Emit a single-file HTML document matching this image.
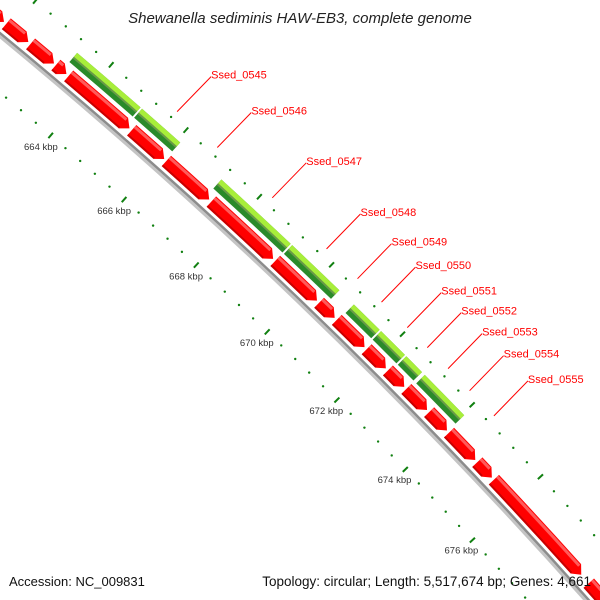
<!DOCTYPE html>
<html><head><meta charset="utf-8"><style>
html,body{margin:0;padding:0;background:#fff;width:600px;height:600px;overflow:hidden}
svg{display:block}
text{font-family:"Liberation Sans",sans-serif}
</style></head><body>
<svg id="map" width="600" height="600" viewBox="0 0 600 600" xmlns="http://www.w3.org/2000/svg">
<rect width="600" height="600" fill="#fff"/>
<g id="backbone"></g>
<g id="ticks"></g>
<g id="red"></g>
<g id="green"></g>
<g id="labels"></g>
<text x="300" y="23" text-anchor="middle" font-size="15" font-style="italic" fill="#222">Shewanella sediminis HAW-EB3, complete genome</text>
<text x="9" y="586" font-size="13" fill="#111">Accession: NC_009831</text>
<text x="591" y="586" text-anchor="end" font-size="13.5" fill="#111">Topology: circular; Length: 5,517,674 bp; Genes: 4,661</text>
</svg>
<script>
// data (kbp)
const redStarts = [655, 661.84, 662.48, 663.15, 663.49, 665.18, 666.12, 667.35, 669.12, 670.35, 670.85, 671.70, 672.31, 672.84, 673.50, 674.08, 674.91, 675.40, 678.25];
const redEnds   = [661.78, 662.42, 663.10, 663.43, 665.12, 666.06, 667.29, 669.06, 670.29, 670.79, 671.64, 672.25, 672.78, 673.44, 674.02, 674.85, 675.34, 678.02, 690];
const greenStarts = [663.32, 665.05, 667.20, 669.15, 670.88, 671.65, 672.37, 672.90];
const greenEnds   = [665.01, 666.08, 669.11, 670.47, 671.61, 672.33, 672.82, 674.04];
const labelNames = ["Ssed_0545","Ssed_0546","Ssed_0547","Ssed_0548","Ssed_0549","Ssed_0550","Ssed_0551","Ssed_0552","Ssed_0553","Ssed_0554","Ssed_0555"];
const labelGene = [5,6,7,8,9,10,11,12,13,14,15];
const tickLabels = [664, 666, 668, 670, 672, 674, 676];

// geometry
const CX = -3346.4, CY = 4097.5, R0 = 5266, A0 = -49.39, DPK = 0.535, K0 = 664;
const NS = "http://www.w3.org/2000/svg";
function ang(k){ return (A0 + (k - K0) * DPK) * Math.PI / 180; }
function pt(k, r){ const a = ang(k), R = R0 + r; return [CX + R * Math.cos(a), CY + R * Math.sin(a)]; }
function f(p){ return p[0].toFixed(2) + "," + p[1].toFixed(2); }
function band(k1, k2, r1, r2){
  const a = pt(k1, r2), b = pt(k2, r2), c = pt(k2, r1), d = pt(k1, r1);
  return "M" + f(a) + " A" + (R0 + r2) + "," + (R0 + r2) + " 0 0 1 " + f(b) + " L" + f(c) + " A" + (R0 + r1) + "," + (R0 + r1) + " 0 0 0 " + f(d) + " Z";
}
function arrow(k1, k2, r1, r2){
  const tipK = 8 / ((R0 + (r1 + r2) / 2) * DPK * Math.PI / 180);
  const kb = Math.max(k1, k2 - tipK);
  const a = pt(k1, r2), b = pt(kb, r2), t = pt(k2, (r1 + r2) / 2), c = pt(kb, r1), d = pt(k1, r1);
  return "M" + f(a) + " A" + (R0 + r2) + "," + (R0 + r2) + " 0 0 1 " + f(b) + " L" + f(t) + " L" + f(c) + " A" + (R0 + r1) + "," + (R0 + r1) + " 0 0 0 " + f(d) + " Z";
}
function mk(tag, attrs, parent){ const e = document.createElementNS(NS, tag); for (const k in attrs) e.setAttribute(k, attrs[k]); parent.appendChild(e); return e; }

// backbone
const bb = document.getElementById("backbone");
let e = mk("path", {d: band(650, 690, -5.5, -2.5), fill: "#c4c4c4"}, bb);


e = mk("path", {d: band(650, 690, -2.5, 0), fill: "#8c8c8c"}, bb);



// ticks
const tg = document.getElementById("ticks");
for (let i = 0; i <= 100; i++) {
  const k = 654 + i * 0.4;
  const major = Math.abs((k / 2) - Math.round(k / 2)) < 0.01;
  [-47, 46].forEach(function(r){
    if (major) {
      const p1 = pt(k, r - 3.5), p2 = pt(k, r + 3.5);
      const t = mk("line", {x1: p1[0], y1: p1[1], x2: p2[0], y2: p2[1], stroke: "#118011", "stroke-width": 2}, tg);
      
      
    } else {
      const p = pt(k, r);
      const t = mk("circle", {cx: p[0], cy: p[1], r: 1.2, fill: "#118011"}, tg);
      
      
    }
  });
}
tickLabels.forEach(function(k){
  const p = pt(k, -62);
  const t = mk("text", {x: p[0], y: p[1], dy: "0.35em", "text-anchor": "middle", "font-size": 9.5, fill: "#333"}, tg);
  t.textContent = k + " kbp";
  
  
});

// red genes
const rg = document.getElementById("red");
redStarts.forEach(function(s, i){
  const en = redEnds[i];
  const g = mk("g", {}, rg);
  
  
  mk("path", {d: arrow(s, en, 3, 17), fill: "#ff0000"}, g);
  const tipK = 8 / ((R0 + 10) * DPK * Math.PI / 180);
  const kb = Math.max(s, en - tipK);
  mk("path", {d: band(s, kb, 13, 16), fill: "#ff5a5a"}, g);
  mk("path", {d: band(s, kb, 3, 5), fill: "#c80000"}, g);
});

// green features
const gg = document.getElementById("green");
greenStarts.forEach(function(s, i){
  const en = greenEnds[i];
  const g = mk("g", {}, gg);
  
  
  mk("path", {d: band(s, en, 21, 33), fill: "#2a8a2a"}, g);
  mk("path", {d: band(s, en, 26, 28), fill: "#6a9a48"}, g);
  mk("path", {d: band(s, en, 28, 33), fill: "#a8ee3a"}, g);
});

// labels
const lg = document.getElementById("labels");
labelNames.forEach(function(name, i){
  const gi = labelGene[i];
  const k = (redStarts[gi] + redEnds[gi]) / 2;
  const p = pt(k, 54);
  const q = [p[0] + 34, p[1] - 35];
  const l = mk("line", {x1: p[0], y1: p[1], x2: q[0], y2: q[1], stroke: "#ff0000", "stroke-width": 1}, lg);
  
  
  const t = mk("text", {x: q[0], y: q[1] + 2, "font-size": 11, fill: "#ff0000"}, lg);
  t.textContent = name;
  
  
});
</script>
</body></html>
